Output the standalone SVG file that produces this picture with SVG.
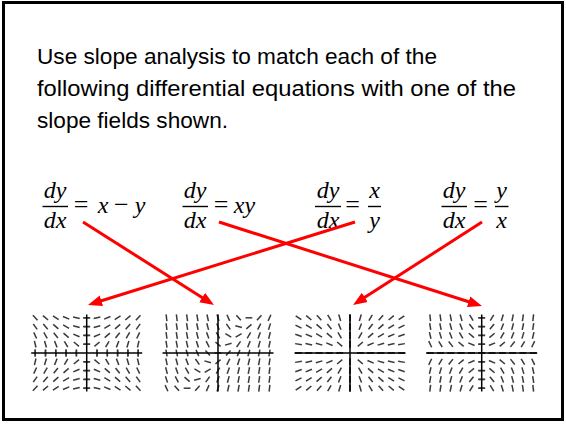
<svg xmlns="http://www.w3.org/2000/svg" width="566" height="424" viewBox="0 0 566 424">
<style>
.t{font-family:"Liberation Sans",Arial,sans-serif;font-size:22px;fill:#000}
.m{font-family:"Liberation Serif","DejaVu Serif",serif;font-size:24px;font-style:italic;fill:#000}
.mo{font-family:"Liberation Serif","DejaVu Serif",serif;font-size:26px;fill:#000}
.bar{stroke:#000;stroke-width:1.4}
.ax{stroke:#000;stroke-width:1.5}
.arr{stroke:#ff0000;stroke-width:3;fill:none;marker-end:url(#ah)}
</style>
<defs>
<marker id="ah" markerUnits="userSpaceOnUse" markerWidth="16" markerHeight="12" refX="5" refY="6" orient="auto"><path d="M0,0.5 L14,6 L0,11.5 z" fill="#ff0000"/></marker>
<line id="s" x1="-3.4" y1="0" x2="3.4" y2="0" stroke="#3a3a3a" stroke-width="1.5"/>
<g id="qa">
<use href="#s" transform="translate(10.3,0) rotate(-90)"/><use href="#s" transform="translate(20.6,0) rotate(-90)"/><use href="#s" transform="translate(30.9,0) rotate(-90)"/><use href="#s" transform="translate(41.2,0) rotate(-90)"/><use href="#s" transform="translate(51.5,0) rotate(-90)"/>
<use href="#s" transform="translate(0,-8.8)"/><use href="#s" transform="translate(0,-17.6)"/><use href="#s" transform="translate(0,-26.4)"/><use href="#s" transform="translate(0,-35.2)"/>
<use href="#s" transform="translate(10.3,-8.8) rotate(-40.5)"/><use href="#s" transform="translate(20.6,-8.8) rotate(-59.65)"/><use href="#s" transform="translate(30.9,-8.8) rotate(-68.68)"/><use href="#s" transform="translate(41.2,-8.8) rotate(-73.68)"/><use href="#s" transform="translate(51.5,-8.8) rotate(-76.82)"/>
<use href="#s" transform="translate(10.3,-17.6) rotate(-23.12)"/><use href="#s" transform="translate(20.6,-17.6) rotate(-40.5)"/><use href="#s" transform="translate(30.9,-17.6) rotate(-52.02)"/><use href="#s" transform="translate(41.2,-17.6) rotate(-59.65)"/><use href="#s" transform="translate(51.5,-17.6) rotate(-64.9)"/>
<use href="#s" transform="translate(10.3,-26.4) rotate(-15.89)"/><use href="#s" transform="translate(20.6,-26.4) rotate(-29.66)"/><use href="#s" transform="translate(30.9,-26.4) rotate(-40.5)"/><use href="#s" transform="translate(41.2,-26.4) rotate(-48.71)"/><use href="#s" transform="translate(51.5,-26.4) rotate(-54.9)"/>
<use href="#s" transform="translate(10.3,-35.2) rotate(-12.05)"/><use href="#s" transform="translate(20.6,-35.2) rotate(-23.12)"/><use href="#s" transform="translate(30.9,-35.2) rotate(-32.64)"/><use href="#s" transform="translate(41.2,-35.2) rotate(-40.5)"/><use href="#s" transform="translate(51.5,-35.2) rotate(-46.87)"/>
</g>
<g id="qc">
<use href="#s" transform="translate(10.3,0)"/><use href="#s" transform="translate(20.6,0)"/><use href="#s" transform="translate(30.9,0)"/><use href="#s" transform="translate(41.2,0)"/><use href="#s" transform="translate(51.5,0)"/>
<use href="#s" transform="translate(0,-8.8) rotate(-90)"/><use href="#s" transform="translate(0,-17.6) rotate(-90)"/><use href="#s" transform="translate(0,-26.4) rotate(-90)"/><use href="#s" transform="translate(0,-35.2) rotate(-90)"/>
<use href="#s" transform="translate(10.3,-8.8) rotate(-40.5)"/><use href="#s" transform="translate(20.6,-8.8) rotate(-23.12)"/><use href="#s" transform="translate(30.9,-8.8) rotate(-15.89)"/><use href="#s" transform="translate(41.2,-8.8) rotate(-12.05)"/><use href="#s" transform="translate(51.5,-8.8) rotate(-9.69)"/>
<use href="#s" transform="translate(10.3,-17.6) rotate(-59.65)"/><use href="#s" transform="translate(20.6,-17.6) rotate(-40.5)"/><use href="#s" transform="translate(30.9,-17.6) rotate(-29.66)"/><use href="#s" transform="translate(41.2,-17.6) rotate(-23.12)"/><use href="#s" transform="translate(51.5,-17.6) rotate(-18.86)"/>
<use href="#s" transform="translate(10.3,-26.4) rotate(-68.68)"/><use href="#s" transform="translate(20.6,-26.4) rotate(-52.02)"/><use href="#s" transform="translate(30.9,-26.4) rotate(-40.5)"/><use href="#s" transform="translate(41.2,-26.4) rotate(-32.64)"/><use href="#s" transform="translate(51.5,-26.4) rotate(-27.13)"/>
<use href="#s" transform="translate(10.3,-35.2) rotate(-73.68)"/><use href="#s" transform="translate(20.6,-35.2) rotate(-59.65)"/><use href="#s" transform="translate(30.9,-35.2) rotate(-48.71)"/><use href="#s" transform="translate(41.2,-35.2) rotate(-40.5)"/><use href="#s" transform="translate(51.5,-35.2) rotate(-34.34)"/>
</g>
<g id="qd">
<use href="#s"/><use href="#s" transform="translate(10.3,0)"/><use href="#s" transform="translate(20.6,0)"/><use href="#s" transform="translate(30.9,0)"/><use href="#s" transform="translate(41.2,0)"/><use href="#s" transform="translate(51.5,0)"/>
<use href="#s" transform="translate(0,-8.8)"/><use href="#s" transform="translate(0,-17.6)"/><use href="#s" transform="translate(0,-26.4)"/><use href="#s" transform="translate(0,-35.2)"/>
<use href="#s" transform="translate(10.3,-8.8) rotate(-22.78)"/><use href="#s" transform="translate(20.6,-8.8) rotate(-40.03)"/><use href="#s" transform="translate(30.9,-8.8) rotate(-51.56)"/><use href="#s" transform="translate(41.2,-8.8) rotate(-59.24)"/><use href="#s" transform="translate(51.5,-8.8) rotate(-64.54)"/>
<use href="#s" transform="translate(10.3,-17.6) rotate(-40.03)"/><use href="#s" transform="translate(20.6,-17.6) rotate(-59.24)"/><use href="#s" transform="translate(30.9,-17.6) rotate(-68.36)"/><use href="#s" transform="translate(41.2,-17.6) rotate(-73.43)"/><use href="#s" transform="translate(51.5,-17.6) rotate(-76.61)"/>
<use href="#s" transform="translate(10.3,-26.4) rotate(-51.56)"/><use href="#s" transform="translate(20.6,-26.4) rotate(-68.36)"/><use href="#s" transform="translate(30.9,-26.4) rotate(-75.18)"/><use href="#s" transform="translate(41.2,-26.4) rotate(-78.78)"/><use href="#s" transform="translate(51.5,-26.4) rotate(-80.98)"/>
<use href="#s" transform="translate(10.3,-35.2) rotate(-59.24)"/><use href="#s" transform="translate(20.6,-35.2) rotate(-73.43)"/><use href="#s" transform="translate(30.9,-35.2) rotate(-78.78)"/><use href="#s" transform="translate(41.2,-35.2) rotate(-81.54)"/><use href="#s" transform="translate(51.5,-35.2) rotate(-83.21)"/>
</g>
</defs>

<rect x="3.5" y="2.5" width="559" height="417" fill="#fff" stroke="#000" stroke-width="3"/>

<g id="prompt">
<text class="t" x="37" y="64" textLength="400" lengthAdjust="spacingAndGlyphs">Use slope analysis to match each of the</text>
<text class="t" x="37" y="96" textLength="479" lengthAdjust="spacingAndGlyphs">following differential equations with one of the</text>
<text class="t" x="37" y="128" textLength="191" lengthAdjust="spacingAndGlyphs">slope fields shown.</text>
</g>

<g id="eq1">
<text class="m" x="55" y="198" text-anchor="middle">dy</text>
<line class="bar" x1="42.5" y1="206.5" x2="68" y2="206.5"/>
<text class="m" x="55" y="228" text-anchor="middle">dx</text>
<text class="mo" x="81" y="213" text-anchor="middle">=</text>
<text class="m" x="103" y="213" text-anchor="middle">x</text>
<text class="mo" x="121.3" y="213" text-anchor="middle">−</text>
<text class="m" x="140" y="213" text-anchor="middle">y</text>
</g>
<g id="eq2">
<text class="m" x="195" y="198" text-anchor="middle">dy</text>
<line class="bar" x1="182.5" y1="206.5" x2="208" y2="206.5"/>
<text class="m" x="195" y="228" text-anchor="middle">dx</text>
<text class="mo" x="221" y="213" text-anchor="middle">=</text>
<text class="m" x="244.5" y="213" text-anchor="middle">xy</text>
</g>
<g id="eq3">
<text class="m" x="328" y="198" text-anchor="middle">dy</text>
<line class="bar" x1="315" y1="206.5" x2="341" y2="206.5"/>
<text class="m" x="328" y="228" text-anchor="middle">dx</text>
<text class="mo" x="352.5" y="213" text-anchor="middle">=</text>
<text class="m" x="374.5" y="198" text-anchor="middle">x</text>
<line class="bar" x1="368" y1="206.5" x2="381" y2="206.5"/>
<text class="m" x="374.5" y="228" text-anchor="middle">y</text>
</g>
<g id="eq4">
<text class="m" x="454" y="198" text-anchor="middle">dy</text>
<line class="bar" x1="441.5" y1="206.5" x2="467" y2="206.5"/>
<text class="m" x="454" y="228" text-anchor="middle">dx</text>
<text class="mo" x="480.5" y="213" text-anchor="middle">=</text>
<text class="m" x="501.7" y="198" text-anchor="middle">y</text>
<line class="bar" x1="495" y1="206.5" x2="508.5" y2="206.5"/>
<text class="m" x="501.7" y="228" text-anchor="middle">x</text>
</g>

<g id="field-x-over-y" transform="translate(86.7,353)">
<use href="#qa"/><use href="#qa" transform="scale(-1,1)"/><use href="#qa" transform="scale(1,-1)"/><use href="#qa" transform="scale(-1,-1)"/>
<line class="ax" x1="-55.5" y1="0" x2="55.5" y2="0"/><line class="ax" x1="0" y1="-38.5" x2="0" y2="38.5"/>
</g>

<g id="field-x-minus-y" transform="translate(218,353)">
<use href="#s" transform="translate(-51.5,-35.2) rotate(83.74)"/><use href="#s" transform="translate(-41.2,-35.2) rotate(82.85)"/><use href="#s" transform="translate(-30.9,-35.2) rotate(81.68)"/><use href="#s" transform="translate(-20.6,-35.2) rotate(80.04)"/><use href="#s" transform="translate(-10.3,-35.2) rotate(77.62)"/><use href="#s" transform="translate(0,-35.2) rotate(73.69)"/><use href="#s" transform="translate(10.3,-35.2) rotate(66.3)"/><use href="#s" transform="translate(20.6,-35.2) rotate(48.72)"/><use href="#s" transform="translate(30.9,-35.2)"/><use href="#s" transform="translate(41.2,-35.2) rotate(-48.72)"/><use href="#s" transform="translate(51.5,-35.2) rotate(-66.3)"/>
<use href="#s" transform="translate(-51.5,-26.4) rotate(83.1)"/><use href="#s" transform="translate(-41.2,-26.4) rotate(82)"/><use href="#s" transform="translate(-30.9,-26.4) rotate(80.51)"/><use href="#s" transform="translate(-20.6,-26.4) rotate(78.33)"/><use href="#s" transform="translate(-10.3,-26.4) rotate(74.88)"/><use href="#s" transform="translate(0,-26.4) rotate(68.69)"/><use href="#s" transform="translate(10.3,-26.4) rotate(54.92)"/><use href="#s" transform="translate(20.6,-26.4) rotate(15.9)"/><use href="#s" transform="translate(30.9,-26.4) rotate(-40.5)"/><use href="#s" transform="translate(41.2,-26.4) rotate(-63.36)"/><use href="#s" transform="translate(51.5,-26.4) rotate(-72.29)"/>
<use href="#s" transform="translate(-51.5,-17.6) rotate(82.31)"/><use href="#s" transform="translate(-41.2,-17.6) rotate(80.93)"/><use href="#s" transform="translate(-30.9,-17.6) rotate(78.96)"/><use href="#s" transform="translate(-20.6,-17.6) rotate(75.92)"/><use href="#s" transform="translate(-10.3,-17.6) rotate(70.65)"/><use href="#s" transform="translate(0,-17.6) rotate(59.66)"/><use href="#s" transform="translate(10.3,-17.6) rotate(29.66)"/><use href="#s" transform="translate(20.6,-17.6) rotate(-29.66)"/><use href="#s" transform="translate(30.9,-17.6) rotate(-59.66)"/><use href="#s" transform="translate(41.2,-17.6) rotate(-70.65)"/><use href="#s" transform="translate(51.5,-17.6) rotate(-75.92)"/>
<use href="#s" transform="translate(-51.5,-8.8) rotate(81.32)"/><use href="#s" transform="translate(-41.2,-8.8) rotate(79.53)"/><use href="#s" transform="translate(-30.9,-8.8) rotate(76.82)"/><use href="#s" transform="translate(-20.6,-8.8) rotate(72.29)"/><use href="#s" transform="translate(-10.3,-8.8) rotate(63.36)"/><use href="#s" transform="translate(0,-8.8) rotate(40.5)"/><use href="#s" transform="translate(10.3,-8.8) rotate(-15.9)"/><use href="#s" transform="translate(20.6,-8.8) rotate(-54.92)"/><use href="#s" transform="translate(30.9,-8.8) rotate(-68.69)"/><use href="#s" transform="translate(41.2,-8.8) rotate(-74.88)"/><use href="#s" transform="translate(51.5,-8.8) rotate(-78.33)"/>
<use href="#s" transform="translate(-51.5,0) rotate(80.04)"/><use href="#s" transform="translate(-41.2,0) rotate(77.62)"/><use href="#s" transform="translate(-30.9,0) rotate(73.69)"/><use href="#s" transform="translate(-20.6,0) rotate(66.3)"/><use href="#s" transform="translate(-10.3,0) rotate(48.72)"/><use href="#s"/><use href="#s" transform="translate(10.3,0) rotate(-48.72)"/><use href="#s" transform="translate(20.6,0) rotate(-66.3)"/><use href="#s" transform="translate(30.9,0) rotate(-73.69)"/><use href="#s" transform="translate(41.2,0) rotate(-77.62)"/><use href="#s" transform="translate(51.5,0) rotate(-80.04)"/>
<use href="#s" transform="translate(-51.5,8.8) rotate(78.33)"/><use href="#s" transform="translate(-41.2,8.8) rotate(74.88)"/><use href="#s" transform="translate(-30.9,8.8) rotate(68.69)"/><use href="#s" transform="translate(-20.6,8.8) rotate(54.92)"/><use href="#s" transform="translate(-10.3,8.8) rotate(15.9)"/><use href="#s" transform="translate(0,8.8) rotate(-40.5)"/><use href="#s" transform="translate(10.3,8.8) rotate(-63.36)"/><use href="#s" transform="translate(20.6,8.8) rotate(-72.29)"/><use href="#s" transform="translate(30.9,8.8) rotate(-76.82)"/><use href="#s" transform="translate(41.2,8.8) rotate(-79.53)"/><use href="#s" transform="translate(51.5,8.8) rotate(-81.32)"/>
<use href="#s" transform="translate(-51.5,17.6) rotate(75.92)"/><use href="#s" transform="translate(-41.2,17.6) rotate(70.65)"/><use href="#s" transform="translate(-30.9,17.6) rotate(59.66)"/><use href="#s" transform="translate(-20.6,17.6) rotate(29.66)"/><use href="#s" transform="translate(-10.3,17.6) rotate(-29.66)"/><use href="#s" transform="translate(0,17.6) rotate(-59.66)"/><use href="#s" transform="translate(10.3,17.6) rotate(-70.65)"/><use href="#s" transform="translate(20.6,17.6) rotate(-75.92)"/><use href="#s" transform="translate(30.9,17.6) rotate(-78.96)"/><use href="#s" transform="translate(41.2,17.6) rotate(-80.93)"/><use href="#s" transform="translate(51.5,17.6) rotate(-82.31)"/>
<use href="#s" transform="translate(-51.5,26.4) rotate(72.29)"/><use href="#s" transform="translate(-41.2,26.4) rotate(63.36)"/><use href="#s" transform="translate(-30.9,26.4) rotate(40.5)"/><use href="#s" transform="translate(-20.6,26.4) rotate(-15.9)"/><use href="#s" transform="translate(-10.3,26.4) rotate(-54.92)"/><use href="#s" transform="translate(0,26.4) rotate(-68.69)"/><use href="#s" transform="translate(10.3,26.4) rotate(-74.88)"/><use href="#s" transform="translate(20.6,26.4) rotate(-78.33)"/><use href="#s" transform="translate(30.9,26.4) rotate(-80.51)"/><use href="#s" transform="translate(41.2,26.4) rotate(-82)"/><use href="#s" transform="translate(51.5,26.4) rotate(-83.1)"/>
<use href="#s" transform="translate(-51.5,35.2) rotate(66.3)"/><use href="#s" transform="translate(-41.2,35.2) rotate(48.72)"/><use href="#s" transform="translate(-30.9,35.2)"/><use href="#s" transform="translate(-20.6,35.2) rotate(-48.72)"/><use href="#s" transform="translate(-10.3,35.2) rotate(-66.3)"/><use href="#s" transform="translate(0,35.2) rotate(-73.69)"/><use href="#s" transform="translate(10.3,35.2) rotate(-77.62)"/><use href="#s" transform="translate(20.6,35.2) rotate(-80.04)"/><use href="#s" transform="translate(30.9,35.2) rotate(-81.68)"/><use href="#s" transform="translate(41.2,35.2) rotate(-82.85)"/><use href="#s" transform="translate(51.5,35.2) rotate(-83.74)"/>
<line class="ax" x1="-55.5" y1="0" x2="55.5" y2="0"/><line class="ax" x1="0" y1="-38.5" x2="0" y2="38.5"/>
</g>

<g id="field-y-over-x" transform="translate(350,353)">
<use href="#qc"/><use href="#qc" transform="scale(-1,1)"/><use href="#qc" transform="scale(1,-1)"/><use href="#qc" transform="scale(-1,-1)"/>
<line class="ax" x1="-55.5" y1="0" x2="55.5" y2="0"/><line class="ax" x1="0" y1="-38.5" x2="0" y2="38.5"/>
</g>

<g id="field-xy" transform="translate(481.7,353)">
<use href="#qd"/><use href="#qd" transform="scale(-1,1)"/><use href="#qd" transform="scale(1,-1)"/><use href="#qd" transform="scale(-1,-1)"/>
<line class="ax" x1="-55.5" y1="0" x2="55.5" y2="0"/><line class="ax" x1="0" y1="-38.5" x2="0" y2="38.5"/>
</g>

<g id="connectors">
<line class="arr" x1="83" y1="222" x2="206.4" y2="300.2"/>
<line class="arr" x1="219" y1="222" x2="473.4" y2="303.3"/>
<line class="arr" x1="355" y1="222" x2="96.6" y2="302.3"/>
<line class="arr" x1="482" y1="222" x2="360.6" y2="300.1"/>
</g>
</svg>
